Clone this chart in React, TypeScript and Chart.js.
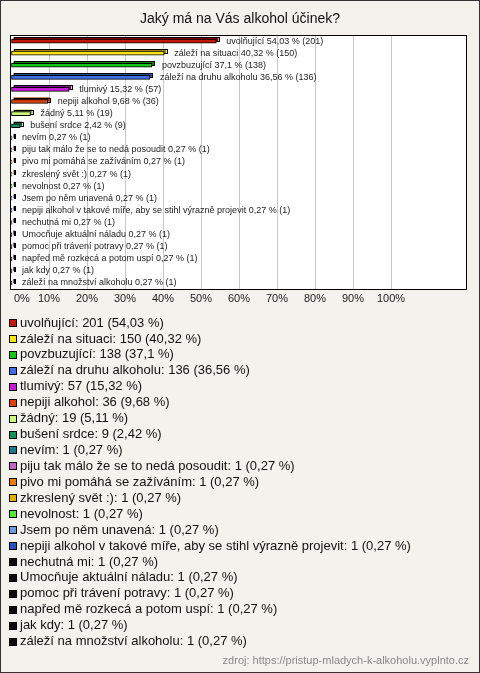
import React, { useEffect, useRef } from "react";
import { Chart, registerables } from "chart.js";

Chart.register(...registerables);

const TITLE = "Jaký má na Vás alkohol účinek?";
const SOURCE = "zdroj: https://pristup-mladych-k-alkoholu.vyplnto.cz";

const categories = [
  "uvolňující",
  "záleží na situaci",
  "povzbuzující",
  "záleží na druhu alkoholu",
  "tlumivý",
  "nepiji alkohol",
  "žádný",
  "bušení srdce",
  "nevím",
  "piju tak málo že se to nedá posoudit",
  "pivo mi pomáhá se zažíváním",
  "zkreslený svět :)",
  "nevolnost",
  "Jsem po něm unavená",
  "nepiji alkohol v takové míře, aby se stihl výrazně projevit",
  "nechutná mi",
  "Umocňuje aktuální náladu",
  "pomoc při trávení potravy",
  "napřed mě rozkecá a potom uspí",
  "jak kdy",
  "záleží na množství alkoholu",
];

const counts = [201, 150, 138, 136, 57, 36, 19, 9, 1, 1, 1, 1, 1, 1, 1, 1, 1, 1, 1, 1, 1];

const percents = [
  54.03, 40.32, 37.1, 36.56, 15.32, 9.68, 5.11, 2.42, 0.27, 0.27, 0.27, 0.27, 0.27, 0.27, 0.27,
  0.27, 0.27, 0.27, 0.27, 0.27, 0.27,
];

const colors = [
  "#c4170c",
  "#fbe41a",
  "#17c41a",
  "#3d6fe8",
  "#c71ad6",
  "#e2420f",
  "#cdf97e",
  "#14925a",
  "#187a8c",
  "#c466c8",
  "#ea7c0c",
  "#e6b00c",
  "#55e637",
  "#6b9be6",
  "#2a52bd",
  "#0a0a0a",
  "#0a0a0a",
  "#0a0a0a",
  "#0a0a0a",
  "#0a0a0a",
  "#0a0a0a",
];

const xTickMax = 100;
const xStep = 10;

const fmt = (p: number) => String(p).replace(".", ",");

const W = 480;
const H = 673;
const PLOT_TOP = 35;
const PLOT_BOTTOM = 289;
const PLOT_LEFT = 11;
const PLOT_RIGHT = 467;
const BG = "#f3f2ec";
const FONT = "'Liberation Sans', Arial, sans-serif";

const decorPlugin = {
  id: "decor",
  beforeDraw(chart: any) {
    const { ctx, chartArea } = chart;
    ctx.save();
    ctx.fillStyle = BG;
    ctx.fillRect(0, 0, W, H);
    ctx.fillStyle = "#ffffff";
    ctx.fillRect(chartArea.left, chartArea.top, chartArea.right - chartArea.left, chartArea.bottom - chartArea.top);
    ctx.restore();
  },
  beforeDatasetsDraw(chart: any) {
    const { ctx } = chart;
    const meta = chart.getDatasetMeta(0);
    ctx.save();
    meta.data.forEach((el: any, i: number) => {
      const { x, y, base, height } = el.getProps(["x", "y", "base", "height"], true);
      const top = y - height / 2 - 2;
      const left = base + 2;
      const w = Math.max(x - base, 1);
      ctx.fillStyle = colors[i];
      ctx.fillRect(left, top, w, height);
      ctx.fillStyle = "rgba(0,0,0,0.35)";
      ctx.fillRect(left, top, w, height);
      ctx.strokeStyle = "#000";
      ctx.lineWidth = 1;
      ctx.strokeRect(Math.round(left) + 0.5, Math.round(top) + 0.5, Math.max(Math.round(w), 1), Math.round(height));
    });
    ctx.restore();
  },
  afterDatasetsDraw(chart: any) {
    const { ctx, chartArea } = chart;
    const meta = chart.getDatasetMeta(0);
    ctx.save();
    ctx.font = `9px ${FONT}`;
    ctx.fillStyle = "#222";
    ctx.textBaseline = "middle";
    ctx.textAlign = "left";
    meta.data.forEach((el: any, i: number) => {
      const { x, y } = el.getProps(["x", "y"], true);
      ctx.fillText(`${categories[i]} ${fmt(percents[i])} % (${counts[i]})`, x + 10, y);
    });
    // plot border
    ctx.strokeStyle = "#000";
    ctx.lineWidth = 1;
    ctx.strokeRect(chartArea.left - 0.5, chartArea.top + 0.5, chartArea.right - chartArea.left, chartArea.bottom - chartArea.top);
    // x tick labels from the scale
    const xs = chart.scales.x;
    ctx.font = `11px ${FONT}`;
    ctx.fillStyle = "#222";
    ctx.textAlign = "center";
    ctx.textBaseline = "middle";
    xs.ticks.forEach((t: any) => {
      if (t.value > xTickMax) return;
      const label = `${t.value}%`;
      const w = ctx.measureText(label).width;
      const px = Math.max(xs.getPixelForValue(t.value), 14 + w / 2);
      ctx.fillText(label, px, 299);
    });
    ctx.restore();
  },
  afterDraw(chart: any) {
    const { ctx } = chart;
    ctx.save();
    // title
    ctx.font = `14px ${FONT}`;
    ctx.fillStyle = "#111";
    ctx.textAlign = "center";
    ctx.textBaseline = "middle";
    ctx.fillText(TITLE, W / 2, 19);
    // legend
    ctx.font = `13px ${FONT}`;
    ctx.textAlign = "left";
    categories.forEach((c, i) => {
      const cy = 323 + i * 15.93;
      const sy = Math.round(cy - 4);
      ctx.fillStyle = colors[i];
      ctx.fillRect(9, sy, 8, 8);
      ctx.strokeStyle = "#000";
      ctx.lineWidth = 1;
      ctx.strokeRect(9.5, sy + 0.5, 7, 7);
      ctx.fillStyle = "#111";
      ctx.fillText(`${c}: ${counts[i]} (${fmt(percents[i])} %)`, 20, cy);
    });
    // source
    ctx.font = `11px ${FONT}`;
    ctx.fillStyle = "#888";
    ctx.textAlign = "right";
    ctx.fillText(SOURCE, 469, 661);
    // outer border
    ctx.strokeStyle = "#333";
    ctx.lineWidth = 1;
    ctx.strokeRect(0.5, 0.5, W - 1, H - 1);
    ctx.restore();
  },
};

export default function App() {
  const ref = useRef<HTMLCanvasElement | null>(null);
  useEffect(() => {
    document.body.style.margin = "0";
    const canvas = ref.current;
    if (!canvas) return;
    const chart = new Chart(canvas, {
      type: "bar",
      data: {
        labels: categories,
        datasets: [
          {
            data: percents,
            backgroundColor: colors,
            borderColor: "#000",
            borderWidth: 1,
            barThickness: 4,
            borderSkipped: false,
          },
        ],
      },
      options: {
        indexAxis: "y",
        responsive: false,
        animation: false,
        devicePixelRatio: 1,
        layout: {
          padding: {
            left: PLOT_LEFT,
            right: W - PLOT_RIGHT,
            top: PLOT_TOP,
            bottom: H - PLOT_BOTTOM,
          },
        },
        plugins: {
          legend: { display: false },
          title: { display: false },
          tooltip: { enabled: false },
        },
        scales: {
          x: {
            min: 0,
            max: 120,
            afterFit: (s: any) => {
              s.height = 0;
            },
            border: { display: false },
            grid: {
              drawTicks: false,
              color: (c: any) =>
                c.tick && c.tick.value > 0 && c.tick.value <= xTickMax ? "#c8c8c8" : "rgba(0,0,0,0)",
            },
            ticks: {
              display: false,
              stepSize: xStep,
              autoSkip: false,
            },
          },
          y: {
            display: false,
            grid: { display: false },
          },
        },
      },
      plugins: [decorPlugin],
    } as any);
    return () => chart.destroy();
  }, []);
  return (
    <div style={{ width: W, height: H }}>
      <canvas ref={ref} width={W} height={H} style={{ width: W, height: H, display: "block" }} />
    </div>
  );
}
